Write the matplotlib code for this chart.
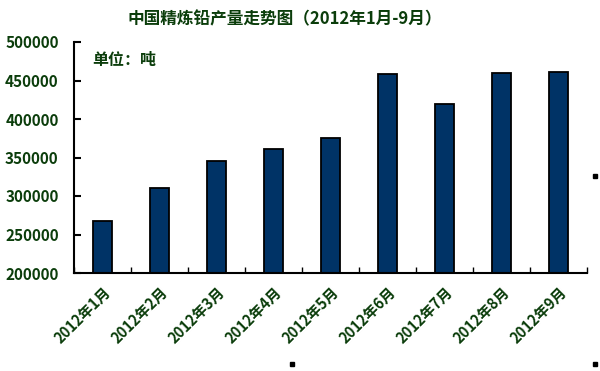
import matplotlib.pyplot as plt
from matplotlib.patches import Rectangle
from matplotlib.transforms import ScaledTranslation

plt.rcParams['font.family'] = ['Noto Sans CJK SC', 'DejaVu Sans']

months = ['2012年1月', '2012年2月', '2012年3月', '2012年4月', '2012年5月',
          '2012年6月', '2012年7月', '2012年8月', '2012年9月']
output = [267500, 310000, 346000, 361000, 375000, 458000, 420000, 459500, 461500]

text_color = '#0b3d0b'

fig = plt.figure(figsize=(6, 3.71), dpi=100)
ax = fig.add_axes([74 / 600, 1 - 273 / 371, 513 / 600, (273 - 42) / 371])

x = range(len(months))
ax.bar(x, output, width=0.32, color='#003366', edgecolor='black', linewidth=1.3)

ax.set_xlim(-0.5, len(months) - 0.5)
ax.set_ylim(200000, 500000)
ax.set_yticks(range(200000, 500001, 50000))
ax.set_xticks([i + 0.5 for i in range(-1, len(months))], minor=True)
ax.set_xticks(list(x))
ax.set_xticklabels(months, rotation=45, ha='right', rotation_mode='anchor',
                   fontsize=10.5, fontweight='bold', color=text_color)
shift = ScaledTranslation(-6 / 100, 0, fig.dpi_scale_trans)
for lab in ax.get_xticklabels():
    lab.set_transform(lab.get_transform() + shift)
for lab in ax.get_yticklabels():
    lab.set_fontweight('bold')
    lab.set_color(text_color)
    lab.set_fontsize(11)

ax.tick_params(axis='y', direction='in', length=5, width=1.5, pad=11)
ax.tick_params(axis='x', which='major', length=0, pad=8)
ax.tick_params(axis='x', which='minor', direction='in', length=4, width=1)

for side in ['top', 'right']:
    ax.spines[side].set_visible(False)
for side in ['left', 'bottom']:
    ax.spines[side].set_linewidth(1.5)

ax.text(0.035, 0.922, '单位：吨', transform=ax.transAxes, fontsize=11.5,
        fontweight='bold', color=text_color, va='center')

fig.text(285 / 600, 1 - 19 / 371, '中国精炼铅产量走势图（2012年1月-9月）', ha='center',
         va='center', fontsize=12, fontweight='bold', color=text_color)

# small stray marks seen in the original image
for px, py in [(290, 364), (593, 176), (593, 364)]:
    fig.patches.append(Rectangle((px / 600, 1 - (py + 2) / 371), 4 / 600, 4 / 371,
                                 transform=fig.transFigure, color='black'))

fig.savefig('out.png', dpi=100)
